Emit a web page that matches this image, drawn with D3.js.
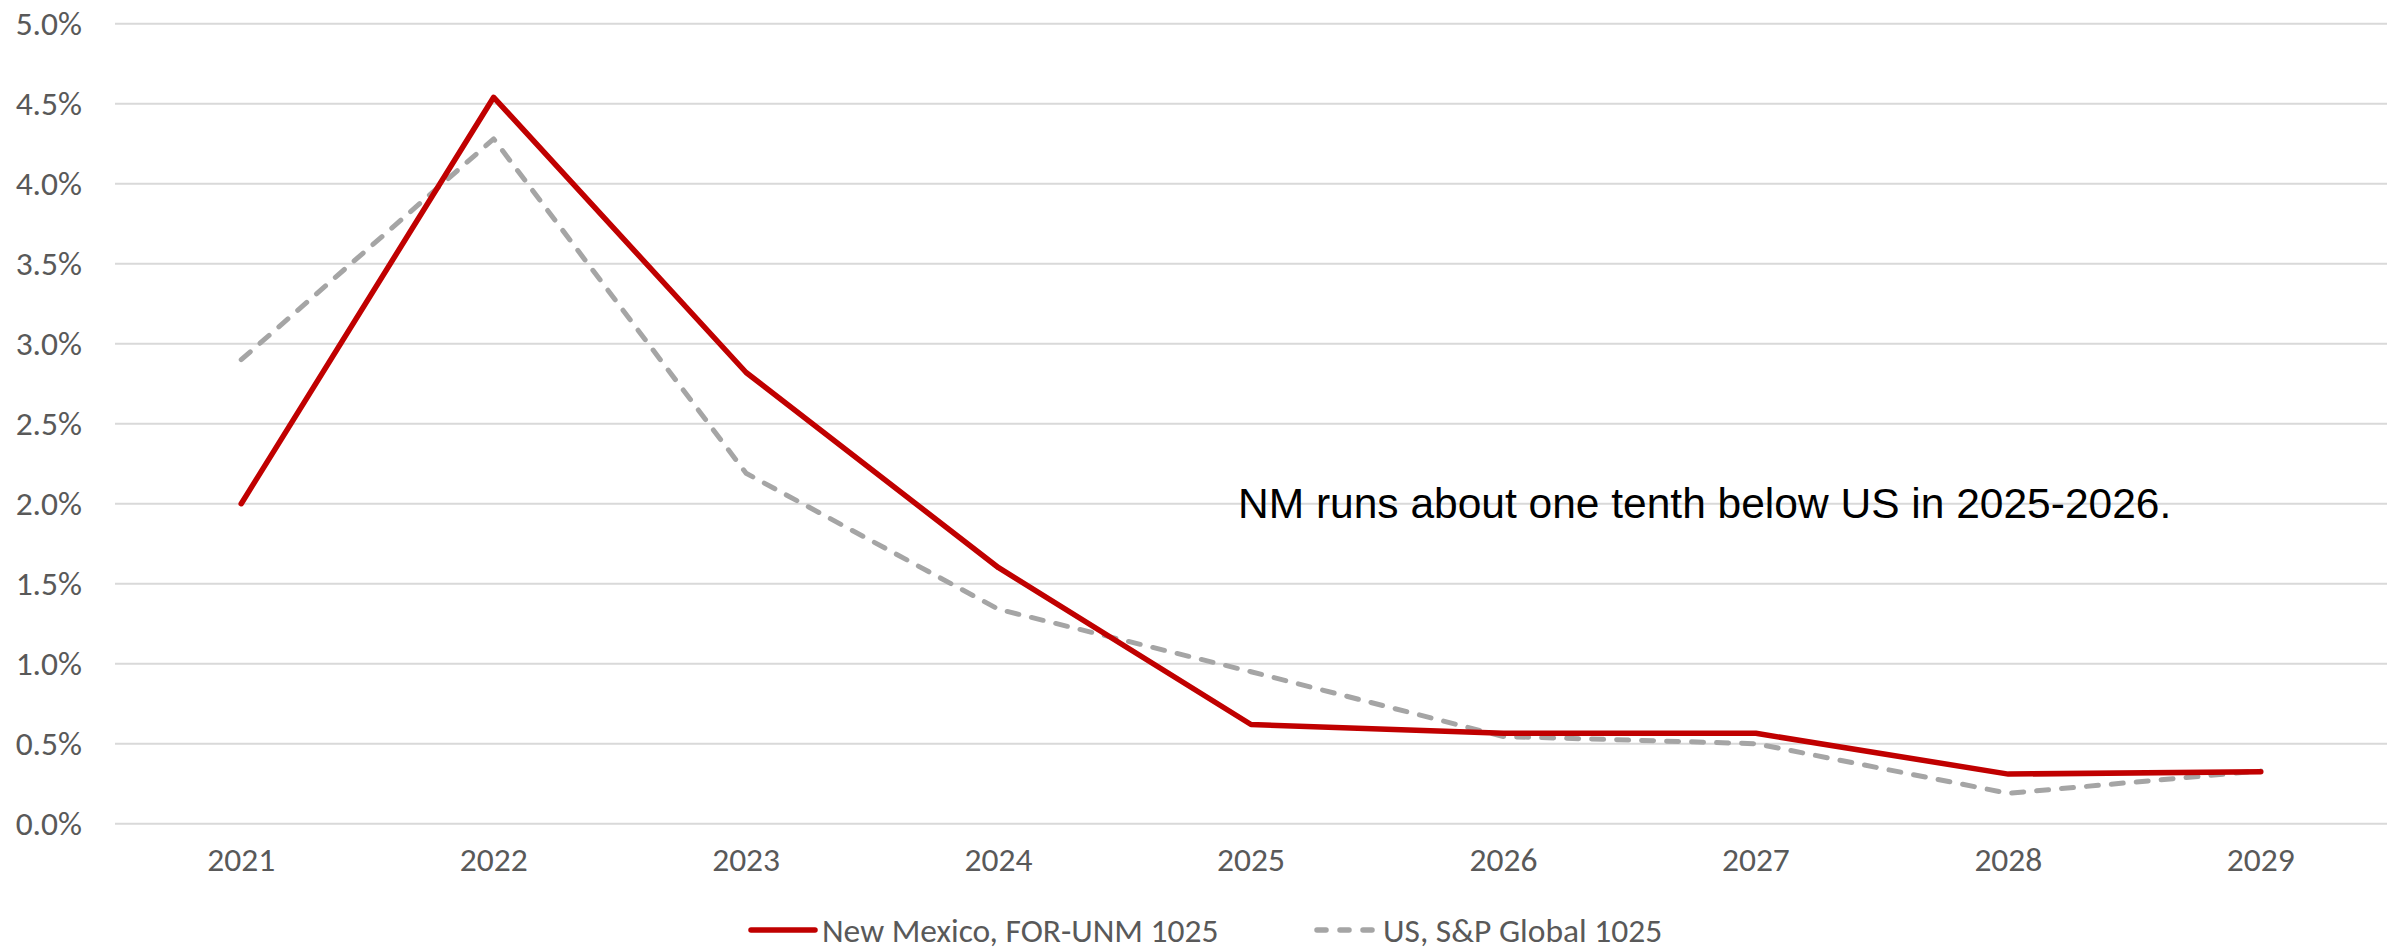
<!DOCTYPE html>
<html>
<head>
<meta charset="utf-8">
<script src="https://cdn.jsdelivr.net/npm/d3@7"></script>
<style>
    body { margin: 0; background: #fff; }
    .axis-text { font-family: Carlito, Lato, "Open Sans", sans-serif; font-size: 33.5px; fill: #595959; }
    .note { font-family: "Liberation Sans", Arial, sans-serif; font-size: 42.5px; fill: #000; }
</style>
</head>
<body>
<div id="chart"></div>
<script>
// data
const years = ["2021", "2022", "2023", "2024", "2025", "2026", "2027", "2028", "2029"];
const nmValues = [2.0, 4.54, 2.82, 1.60, 0.62, 0.565, 0.565, 0.31, 0.325];
const usValues = [2.90, 4.28, 2.19, 1.34, 0.95, 0.545, 0.50, 0.19, 0.33];
const yTicks = [0, 0.5, 1.0, 1.5, 2.0, 2.5, 3.0, 3.5, 4.0, 4.5, 5.0];
const seriesNames = ["New Mexico, FOR-UNM 1025", "US, S&P Global 1025"];
const note = "NM runs about one tenth below US in 2025-2026.";

const width = 2402, height = 950;

let svg = d3.select("#chart").append("svg")
    .attr("width", width)
    .attr("height", height);

// scales
let x = d3.scaleBand()
    .domain(years)
    .range([115, 2387]);

let y = d3.scaleLinear()
    .domain([0, 5])
    .range([823.7, 23.7]);

let cx = d => x(d) + x.bandwidth() / 2;

// gridlines
svg.append("g")
    .selectAll("line")
    .data(yTicks)
    .enter()
    .append("line")
    .attr("x1", 115)
    .attr("x2", 2387)
    .attr("y1", d => y(d))
    .attr("y2", d => y(d))
    .attr("stroke", "#d9d9d9")
    .attr("stroke-width", 2);

// y axis labels
let yAxis = d3.axisLeft(y)
    .tickValues(yTicks)
    .tickSize(0)
    .tickPadding(33)
    .tickFormat(d => d.toFixed(1) + "%");

svg.append("g")
    .attr("transform", "translate(115,0)")
    .call(yAxis)
    .call(g => g.select(".domain").remove())
    .selectAll("text")
    .attr("class", "axis-text")
    .attr("font-family", null)
    .attr("font-size", null);

// x axis labels
let xAxis = d3.axisBottom(x)
    .tickSize(0)
    .tickPadding(24);

svg.append("g")
    .attr("transform", "translate(0,823.7)")
    .call(xAxis)
    .call(g => g.select(".domain").remove())
    .selectAll("text")
    .attr("class", "axis-text")
    .attr("font-family", null)
    .attr("font-size", null);

let line = d3.line()
    .x((d, i) => cx(years[i]))
    .y(d => y(d));

// US dashed series
svg.append("path")
    .datum(usValues)
    .attr("d", line)
    .attr("fill", "none")
    .attr("stroke", "#a5a5a5")
    .attr("stroke-width", 5)
    .attr("stroke-dasharray", "12,13")
    .attr("stroke-linecap", "round")
    .attr("stroke-linejoin", "round");

// NM series
svg.append("path")
    .datum(nmValues)
    .attr("d", line)
    .attr("fill", "none")
    .attr("stroke", "#c00000")
    .attr("stroke-width", 5.5)
    .attr("stroke-linecap", "round")
    .attr("stroke-linejoin", "round");

// annotation
svg.append("text")
    .attr("class", "note")
    .attr("x", 1238)
    .attr("y", 518)
    .text(note);

// legend
let legend = svg.append("g").attr("transform", "translate(0,930)");
legend.append("line")
    .attr("x1", 751).attr("x2", 815)
    .attr("y1", 0).attr("y2", 0)
    .attr("stroke", "#c00000")
    .attr("stroke-width", 5.5)
    .attr("stroke-linecap", "round");
legend.append("text")
    .attr("class", "axis-text")
    .attr("x", 822)
    .attr("y", 0)
    .attr("dy", "0.35em")
    .text(seriesNames[0]);
legend.append("line")
    .attr("x1", 1317).attr("x2", 1373)
    .attr("y1", 0).attr("y2", 0)
    .attr("stroke", "#a5a5a5")
    .attr("stroke-width", 5.5)
    .attr("stroke-dasharray", "9,14")
    .attr("stroke-linecap", "round");
legend.append("text")
    .attr("class", "axis-text")
    .attr("x", 1383)
    .attr("y", 0)
    .attr("dy", "0.35em")
    .text(seriesNames[1]);
</script>
</body>
</html>
